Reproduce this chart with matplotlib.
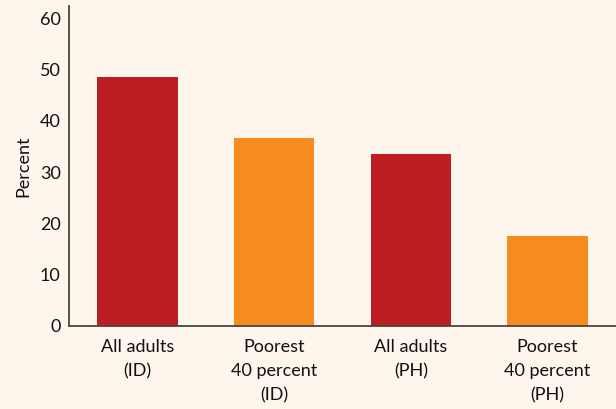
import matplotlib
matplotlib.use("Agg")
import matplotlib.pyplot as plt

categories = ["All adults\n(ID)", "Poorest\n40 percent\n(ID)", "All adults\n(PH)", "Poorest\n40 percent\n(PH)"]
values = [48.5, 36.6, 33.6, 17.6]
colors = ["#BC1E24", "#F68B1F", "#BC1E24", "#F68B1F"]
yticks = [0, 10, 20, 30, 40, 50, 60]

bg = "#FEF5EC"
plt.rcParams['font.family'] = ['Lato', 'DejaVu Sans']

fig = plt.figure(figsize=(6.16, 4.09), dpi=100, facecolor=bg)
ax = fig.add_axes([69/616, 1-326/409, 1-69/616, 320/409])
ax.set_facecolor(bg)
x = list(range(len(categories)))
ax.bar(x, values, width=0.59, color=colors, zorder=2)
ax.set_xlim(-0.5, 3.5)
ax.set_ylim(0, 62.4)
ax.set_yticks(yticks)
ax.set_xticks(x)
ax.set_xticklabels(categories, fontsize=13, linespacing=1.65, color="#111111")
ax.tick_params(axis='both', length=0, labelsize=13, colors="#111111")
ax.tick_params(axis='x', pad=9)
ax.tick_params(axis='y', pad=6)
for s in ['top', 'right']:
    ax.spines[s].set_visible(False)
for s in ['left', 'bottom']:
    ax.spines[s].set_color("#4a4440")
    ax.spines[s].set_linewidth(1.3)
ax.set_ylabel("Percent", fontsize=13, color="#111111", labelpad=6)
fig.savefig("out.png", dpi=100, facecolor=bg)
